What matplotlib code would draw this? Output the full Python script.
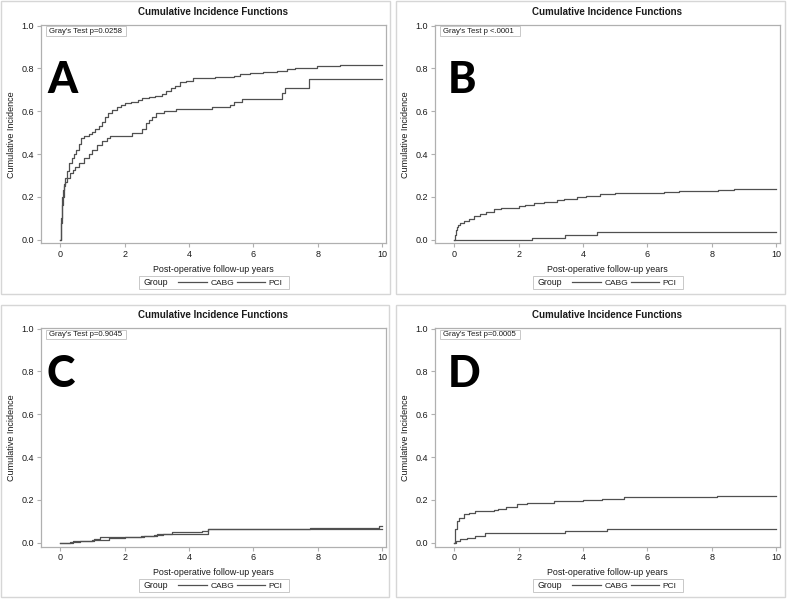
import matplotlib
matplotlib.use("Agg")
import matplotlib.pyplot as plt
from matplotlib.patches import Rectangle
from matplotlib.lines import Line2D

# ---------------- data ----------------
panel_letters = ["A", "B", "C", "D"]
gray_tests = ["Gray's Test p=0.0258", "Gray's Test p <.0001", "Gray's Test p=0.9045", "Gray's Test p=0.0005"]
group_labels = ["CABG", "PCI"]
x_ticks = [0, 2, 4, 6, 8, 10]
y_ticks = [0.0, 0.2, 0.4, 0.6, 0.8, 1.0]
y_tick_labels = ["0.0", "0.2", "0.4", "0.6", "0.8", "1.0"]

a_cabg_t = [0, 0.02, 0.04, 0.07, 0.1, 0.16, 0.22, 0.28, 0.35, 0.42, 0.5, 0.58, 0.65, 0.75, 0.88, 1.0,
            1.09, 1.2, 1.3, 1.4, 1.48, 1.6, 1.76, 1.9, 2.02, 2.2, 2.4, 2.54, 2.75, 2.95, 3.16, 3.3,
            3.45, 3.57, 3.73, 3.9, 4.14, 4.4, 4.8, 5.2, 5.39, 5.6, 5.9, 6.3, 6.73, 7.05, 7.3, 7.67,
            7.98, 8.7, 10]
a_cabg_v = [0, 0.08, 0.16, 0.23, 0.26, 0.29, 0.32, 0.356, 0.38, 0.40, 0.42, 0.445, 0.473, 0.482,
            0.493, 0.505, 0.515, 0.53, 0.551, 0.575, 0.593, 0.605, 0.618, 0.627, 0.637, 0.645, 0.652,
            0.66, 0.667, 0.673, 0.68, 0.695, 0.71, 0.72, 0.736, 0.74, 0.754, 0.757, 0.76, 0.762,
            0.765, 0.774, 0.777, 0.782, 0.79, 0.797, 0.8, 0.804, 0.811, 0.816, 0.816]
a_pci_t = [0, 0.02, 0.05, 0.1, 0.15, 0.21, 0.31, 0.4, 0.47, 0.59, 0.73, 0.88, 1.0, 1.14, 1.29, 1.45,
           1.55, 2.23, 2.54, 2.65, 2.75, 2.85, 2.97, 3.21, 3.6, 4.71, 5.28, 5.39, 5.65, 6.89, 7.0,
           7.72, 10]
a_pci_v = [0, 0.1, 0.2, 0.25, 0.27, 0.286, 0.31, 0.325, 0.338, 0.356, 0.38, 0.40, 0.419, 0.442,
           0.462, 0.474, 0.484, 0.497, 0.515, 0.544, 0.56, 0.574, 0.59, 0.60, 0.609, 0.618, 0.629,
           0.645, 0.659, 0.684, 0.707, 0.749, 0.749]

b_cabg_t = [0, 0.02, 0.05, 0.08, 0.12, 0.19, 0.3, 0.45, 0.6, 0.8, 1.0, 1.22, 1.45, 1.74, 2.0, 2.2,
            2.47, 2.8, 3.19, 3.4, 3.81, 4.1, 4.54, 5.0, 5.6, 6.0, 6.51, 7.0, 7.96, 8.2, 8.68, 10]
b_cabg_v = [0, 0.02, 0.045, 0.06, 0.07, 0.079, 0.086, 0.097, 0.112, 0.12, 0.13, 0.141, 0.146, 0.15,
            0.158, 0.163, 0.172, 0.177, 0.185, 0.19, 0.2, 0.205, 0.213, 0.216, 0.218, 0.22, 0.224,
            0.227, 0.228, 0.232, 0.236, 0.236]
b_pci_t = [0, 2.41, 3.45, 4.43, 10]
b_pci_v = [0, 0.010, 0.021, 0.034, 0.034]

c_cabg_t = [0, 0.3, 0.6, 1.0, 1.5, 2.0, 2.5, 2.9, 3.2, 3.5, 4.59, 5.5, 6.5, 7.77, 8.5, 10]
c_cabg_v = [0, 0.005, 0.01, 0.014, 0.02, 0.025, 0.032, 0.036, 0.04, 0.04, 0.062, 0.063, 0.064,
            0.065, 0.066, 0.066]
c_pci_t = [0, 0.4, 1.04, 1.22, 2.6, 3.0, 3.47, 4.4, 4.59, 6.0, 7.77, 9.9, 10]
c_pci_v = [0, 0.006, 0.015, 0.028, 0.032, 0.04, 0.05, 0.055, 0.062, 0.064, 0.07, 0.078, 0.078]

d_cabg_t = [0, 0.01, 0.03, 0.08, 0.15, 0.29, 0.45, 0.65, 0.9, 1.22, 1.35, 1.6, 1.95, 2.26, 2.6,
            3.1, 3.3, 4.0, 4.6, 5.26, 6.5, 8.17, 10]
d_cabg_v = [0, 0.03, 0.062, 0.10, 0.115, 0.132, 0.14, 0.148, 0.148, 0.152, 0.155, 0.165, 0.179,
            0.184, 0.186, 0.194, 0.196, 0.2, 0.205, 0.213, 0.214, 0.218, 0.218]
d_pci_t = [0, 0.05, 0.18, 0.39, 0.65, 0.96, 3.45, 4.75, 10]
d_pci_v = [0, 0.007, 0.016, 0.023, 0.031, 0.043, 0.054, 0.064, 0.064]

series = [
    ((a_cabg_t, a_cabg_v), (a_pci_t, a_pci_v)),
    ((b_cabg_t, b_cabg_v), (b_pci_t, b_pci_v)),
    ((c_cabg_t, c_cabg_v), (c_pci_t, c_pci_v)),
    ((d_cabg_t, d_cabg_v), (d_pci_t, d_pci_v)),
]

# ---------------- layout ----------------
W, H = 788, 599
fig = plt.figure(figsize=(W / 100, H / 100), dpi=100)
plt.rcParams['font.family'] = ['Liberation Sans', 'DejaVu Sans']

def fx(px):
    return px / W

def fy(py):
    return 1 - py / H

LINE_C = "#505050"
FRAME_C = "#b0b0b0"
BORDER_C = "#d6d6d6"
TEXT_C = "#1a1a1a"

offsets = [(0, 0), (394, 0), (0, 303), (394, 303)]
borders = [(1, 1, 390, 294), (396, 1, 785, 294), (1, 305, 389, 597), (396, 305, 785, 597)]

for i, (ox, oy) in enumerate(offsets):
    bx0, by0, bx1, by1 = borders[i]
    fig.patches.append(Rectangle((fx(bx0), fy(by1)), fx(bx1 - bx0), (by1 - by0) / H,
                                 transform=fig.transFigure, fill=False, edgecolor=BORDER_C, lw=1.0))
    left, right = ox + 41, ox + 386
    top, bottom = oy + 25, oy + 243.5
    ax = fig.add_axes([fx(left), fy(bottom), fx(right - left), (bottom - top) / H])
    (ct, cv), (pt, pv) = series[i]
    ax.step(ct, cv, where='post', color=LINE_C, lw=0.9)
    ax.step(pt, pv, where='post', color=LINE_C, lw=0.9)
    ax.set_xlim(-0.6, 10.124)
    ax.set_ylim(-0.018, 1.003)
    ax.set_xticks(x_ticks)
    ax.set_yticks(y_ticks)
    ax.set_yticklabels(y_tick_labels)
    for s in ax.spines.values():
        s.set_color(FRAME_C)
        s.set_linewidth(0.9)
    ax.tick_params(direction='out', length=3, width=0.8, color=FRAME_C,
                   labelsize=6.5, labelcolor=TEXT_C, pad=2)
    ax.set_title("Cumulative Incidence Functions", fontsize=7.0, fontweight='bold',
                 color=TEXT_C, pad=7)
    ax.set_xlabel("Post-operative follow-up years", fontsize=6.4, color=TEXT_C, labelpad=4)
    ax.set_ylabel("Cumulative Incidence", fontsize=6.5, color=TEXT_C, labelpad=4)

    # Gray's test inset box
    fig.patches.append(Rectangle((fx(ox + 46), fy(oy + 35.5)), fx(80), 9 / H,
                                 transform=fig.transFigure, fill=True, facecolor='white',
                                 edgecolor="#c8c8c8", lw=0.7, zorder=5))
    fig.text(fx(ox + 49), fy(oy + 31.3), gray_tests[i], fontsize=5.6, color=TEXT_C,
             ha='left', va='center', zorder=6)

    # big panel letter
    lx = ox + (47 if i % 2 == 0 else 54)
    ly = oy + (93 if i < 2 else 84)
    fig.text(fx(lx), fy(ly), panel_letters[i], fontsize=31, fontweight='black',
             family=['Lato', 'Open Sans'], color='black', ha='left', va='baseline')

    # legend
    lgy = oy + 282
    base = oy + 285
    fig.patches.append(Rectangle((fx(ox + 139), fy(oy + 288.5)), fx(150), 12.5 / H,
                                 transform=fig.transFigure, fill=False, edgecolor="#c8c8c8",
                                 lw=0.7))
    fig.text(fx(ox + 143), fy(base), "Group", fontsize=6.3, color=TEXT_C, ha='left', va='baseline')
    for (x0, x1, tx), lab in zip([(178, 207, 211), (237, 265, 268)], group_labels):
        fig.lines.append(Line2D([fx(ox + x0), fx(ox + x1)], [fy(lgy), fy(lgy)],
                                transform=fig.transFigure, color=LINE_C, lw=0.9))
        fig.text(fx(ox + tx), fy(base), lab, fontsize=6.0, color=TEXT_C, ha='left', va='baseline')

fig.savefig("out.png", dpi=100)
